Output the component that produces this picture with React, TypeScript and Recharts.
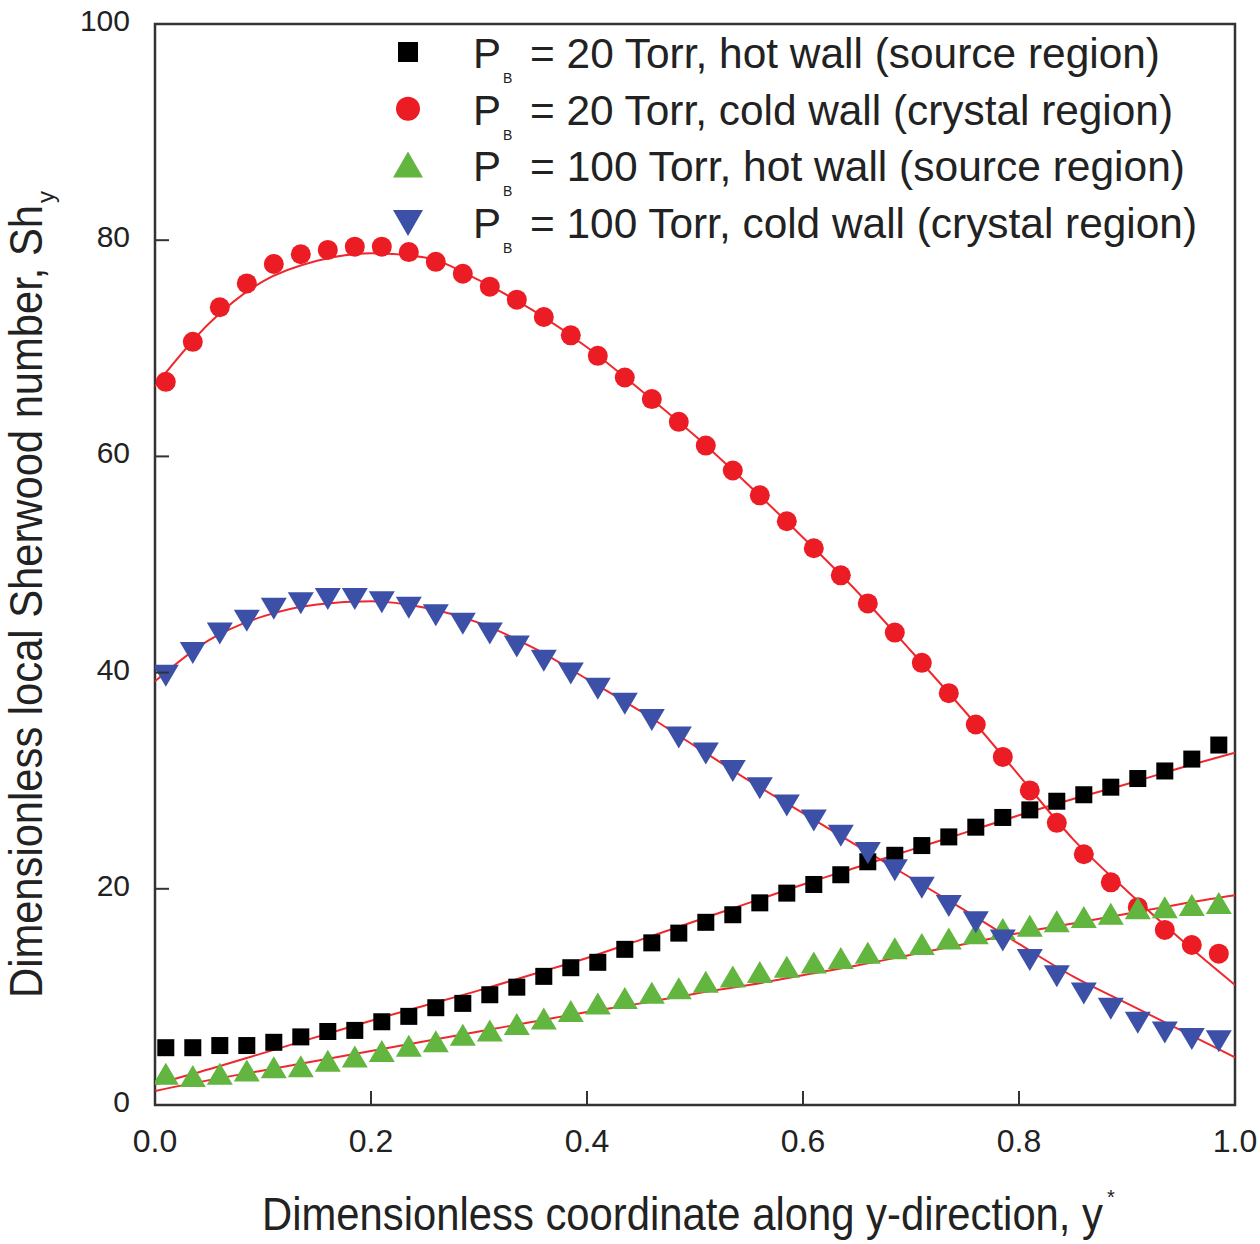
import React from "react";
import { ComposedChart, Scatter, Line, XAxis, YAxis, ReferenceArea } from "recharts";

// dimensionless coordinate y* of the simulated points
const yStar = [
  0.01, 0.035, 0.06, 0.085, 0.11, 0.135, 0.16, 0.185, 0.21, 0.235,
  0.26, 0.285, 0.31, 0.335, 0.36, 0.385, 0.41, 0.435, 0.46, 0.485,
  0.51, 0.535, 0.56, 0.585, 0.61, 0.635, 0.66, 0.685, 0.71, 0.735,
  0.76, 0.785, 0.81, 0.835, 0.86, 0.885, 0.91, 0.935, 0.96, 0.985,
];

// P_B = 20 Torr, hot wall
const hot20 = [
  5.3, 5.3, 5.5, 5.5, 5.8, 6.3, 6.8, 6.9, 7.7, 8.2,
  9.0, 9.4, 10.2, 10.9, 11.9, 12.7, 13.2, 14.4, 15.0, 15.9,
  16.9, 17.6, 18.7, 19.6, 20.4, 21.3, 22.5, 23.1, 24.0, 24.8,
  25.7, 26.6, 27.3, 28.1, 28.7, 29.4, 30.2, 30.9, 32.0, 33.3,
];
// P_B = 20 Torr, cold wall
const cold20 = [
  66.9, 70.6, 73.8, 76.0, 77.8, 78.7, 79.1, 79.4, 79.4, 78.9,
  78.0, 76.9, 75.7, 74.5, 72.9, 71.2, 69.3, 67.3, 65.3, 63.2,
  61.0, 58.7, 56.4, 54.0, 51.5, 49.0, 46.4, 43.7, 40.9, 38.1,
  35.2, 32.2, 29.1, 26.1, 23.2, 20.6, 18.3, 16.2, 14.8, 14.0,
];
// P_B = 100 Torr, hot wall
const hot100 = [
  2.8, 2.6, 2.8, 3.1, 3.4, 3.5, 4.0, 4.4, 4.9, 5.4,
  5.8, 6.4, 6.8, 7.4, 7.9, 8.6, 9.3, 9.8, 10.3, 10.7,
  11.3, 11.8, 12.2, 12.7, 13.1, 13.5, 14.0, 14.4, 14.8, 15.3,
  15.8, 16.2, 16.5, 16.9, 17.3, 17.6, 18.1, 18.2, 18.4, 18.6,
];
// P_B = 100 Torr, cold wall
const cold100 = [
  39.8, 41.9, 43.7, 44.9, 46.0, 46.5, 46.9, 46.9, 46.6, 46.1,
  45.4, 44.6, 43.7, 42.5, 41.2, 40.0, 38.6, 37.2, 35.7, 34.1,
  32.6, 31.0, 29.4, 27.8, 26.4, 25.0, 23.4, 21.8, 20.2, 18.5,
  17.0, 15.3, 13.5, 12.0, 10.4, 9.0, 7.7, 6.8, 6.2, 6.0,
];

// red fitted curves
const fitX = [
  0, 0.05, 0.1, 0.15, 0.2, 0.25, 0.3, 0.35, 0.4, 0.45, 0.5,
  0.55, 0.6, 0.65, 0.7, 0.75, 0.8, 0.85, 0.9, 0.95, 1.0,
];
const fitHot20 = [
  1.9, 3.3, 4.8, 6.3, 7.8, 9.2, 10.6, 12.1, 13.6, 15.3, 17.0,
  18.7, 20.4, 22.0, 23.6, 25.2, 26.8, 28.3, 29.7, 31.2, 32.6,
];
const fitCold20 = [
  66.5, 72.3, 76.2, 78.1, 78.8, 78.4, 76.3, 73.5, 70.1, 66.1, 61.9,
  57.3, 52.5, 47.5, 42.0, 36.4, 30.5, 24.6, 19.8, 15.3, 11.1,
];
const fitHot100 = [
  1.3, 2.3, 3.2, 4.1, 5.0, 5.9, 6.8, 7.7, 8.6, 9.4, 10.3,
  11.1, 12.0, 12.9, 13.9, 14.9, 15.9, 16.8, 17.7, 18.6, 19.4,
];
const fitCold100 = [
  39.2, 43.0, 45.2, 46.3, 46.6, 46.0, 44.6, 42.3, 39.4, 36.4, 33.2,
  30.0, 27.0, 24.0, 21.0, 18.0, 14.9, 11.9, 9.4, 6.9, 4.4,
];

const xTicks = [0, 0.2, 0.4, 0.6, 0.8, 1.0];
const yTicks = [0, 20, 40, 60, 80, 100];

const legendRows = [
  { label: "= 20 Torr, hot wall (source region)", marker: "square", len: 630 },
  { label: "= 20 Torr, cold wall (crystal region)", marker: "circle", len: 643 },
  { label: "= 100 Torr, hot wall (source region)", marker: "up", len: 655 },
  { label: "= 100 Torr, cold wall (crystal region)", marker: "down", len: 667 },
];

const W = 1260;
const H = 1244;
const PLOT_LEFT = 155;
const PLOT_TOP = 24;
const PLOT_RIGHT = 1235;
const PLOT_BOTTOM = 1105;
const FONT = "'Liberation Sans', Arial, sans-serif";
const TEXT = "#222";

const RED = "#ec1c24";
const FIT = "#f0282d";
const GREEN = "#62b53e";
const BLUE = "#3c50a8";

const pts = (ys: number[]) => yStar.map((x, i) => ({ x, y: ys[i] }));
const fit = (ys: number[]) => fitX.map((x, i) => ({ x, y: ys[i] }));

const Square = (p: any) => <rect x={p.cx - 8.5} y={p.cy - 8.5} width={17} height={17} fill="#000" />;
const Dot = (p: any) => <circle cx={p.cx} cy={p.cy} r={10} fill={RED} />;
const Up = (p: any) => (
  <polygon points={`${p.cx - 13},${p.cy + 10} ${p.cx + 13},${p.cy + 10} ${p.cx},${p.cy - 12}`} fill={GREEN} />
);
const Down = (p: any) => (
  <polygon points={`${p.cx - 13},${p.cy - 10} ${p.cx + 13},${p.cy - 10} ${p.cx},${p.cy + 12}`} fill={BLUE} />
);

const XTick = ({ x, payload }: any) => (
  <g>
    <line x1={x} x2={x} y1={PLOT_BOTTOM} y2={PLOT_BOTTOM - 14} stroke="#333" strokeWidth={2} />
    <text x={x} y={PLOT_BOTTOM + 47} textAnchor="middle" fontSize={32} fontFamily={FONT} fill={TEXT}>
      {Number(payload.value).toFixed(1)}
    </text>
  </g>
);

const YTick = ({ y, payload }: any) => (
  <g>
    <line x1={PLOT_LEFT} x2={PLOT_LEFT + 14} y1={y} y2={y} stroke="#333" strokeWidth={2} />
    <text x={130} y={y + 7} textAnchor="end" fontSize={30} fontFamily={FONT} fill={TEXT}>
      {payload.value}
    </text>
  </g>
);

function LegendMarker({ kind, cx, cy }: { kind: string; cx: number; cy: number }) {
  if (kind === "square") return <rect x={cx - 10} y={cy - 10} width={20} height={20} fill="#000" />;
  if (kind === "circle") return <circle cx={cx} cy={cy} r={12} fill={RED} />;
  if (kind === "up")
    return <polygon points={`${cx - 15},${cy + 12} ${cx + 15},${cy + 12} ${cx},${cy - 14}`} fill={GREEN} />;
  return <polygon points={`${cx - 15},${cy - 12} ${cx + 15},${cy - 12} ${cx},${cy + 14}`} fill={BLUE} />;
}

function Overlay() {
  return (
    <svg width={W} height={H} style={{ position: "absolute", left: 0, top: 0, pointerEvents: "none" }}>
      {legendRows.map((r, i) => {
        const cy = 52 + i * 56.7;
        const base = cy + 16;
        return (
          <g key={r.label} fontFamily={FONT} fill={TEXT}>
            <LegendMarker kind={r.marker} cx={408} cy={cy} />
            <text x={473} y={base} fontSize={42}>
              P
              <tspan x={503} dy={15} fontSize={14}>B</tspan>
              <tspan x={530} dy={-15} textLength={r.len} lengthAdjust="spacingAndGlyphs">
                {r.label}
              </tspan>
            </text>
          </g>
        );
      })}
      <g fontFamily={FONT} fill={TEXT}>
        <text x={262} y={1230} fontSize={46}>
          <tspan textLength={841} lengthAdjust="spacingAndGlyphs">
            Dimensionless coordinate along y-direction, y
          </tspan>
          <tspan dx={4} dy={-26} fontSize={20}>*</tspan>
        </text>
        <g transform="rotate(-90)">
          <text x={-998} y={42} fontSize={46}>
            <tspan textLength={793} lengthAdjust="spacingAndGlyphs">
              Dimensionless local Sherwood number, Sh
            </tspan>
            <tspan dx={2} dy={12} fontSize={24}>y</tspan>
          </text>
        </g>
      </g>
    </svg>
  );
}

export default function App() {
  return (
    <div style={{ position: "absolute", left: 0, top: 0, width: W, height: H, background: "#fff" }}>
      <ComposedChart
        width={W}
        height={H}
        margin={{ top: PLOT_TOP, right: W - PLOT_RIGHT, left: PLOT_LEFT - 100, bottom: H - PLOT_BOTTOM - 80 }}
      >
        <XAxis
          type="number"
          dataKey="x"
          domain={[0, 1]}
          ticks={xTicks}
          allowDataOverflow
          axisLine={false}
          tickLine={false}
          height={80}
          tick={XTick}
        />
        <YAxis
          type="number"
          dataKey="y"
          domain={[0, 100]}
          ticks={yTicks}
          allowDataOverflow
          axisLine={false}
          tickLine={false}
          width={100}
          tick={YTick}
        />
        <ReferenceArea x1={0} x2={1} y1={0} y2={100} fill="none" stroke="#333" strokeWidth={2.5} />
        <Scatter data={pts(hot20)} shape={Square} isAnimationActive={false} />
        <Scatter data={pts(cold20)} shape={Dot} isAnimationActive={false} />
        <Scatter data={pts(hot100)} shape={Up} isAnimationActive={false} />
        <Scatter data={pts(cold100)} shape={Down} isAnimationActive={false} />
        <Line data={fit(fitHot20)} dataKey="y" type="monotone" stroke={FIT} strokeWidth={2} dot={false} activeDot={false} isAnimationActive={false} />
        <Line data={fit(fitCold20)} dataKey="y" type="monotone" stroke={FIT} strokeWidth={2} dot={false} activeDot={false} isAnimationActive={false} />
        <Line data={fit(fitHot100)} dataKey="y" type="monotone" stroke={FIT} strokeWidth={2} dot={false} activeDot={false} isAnimationActive={false} />
        <Line data={fit(fitCold100)} dataKey="y" type="monotone" stroke={FIT} strokeWidth={2} dot={false} activeDot={false} isAnimationActive={false} />
      </ComposedChart>
      <Overlay />
    </div>
  );
}
